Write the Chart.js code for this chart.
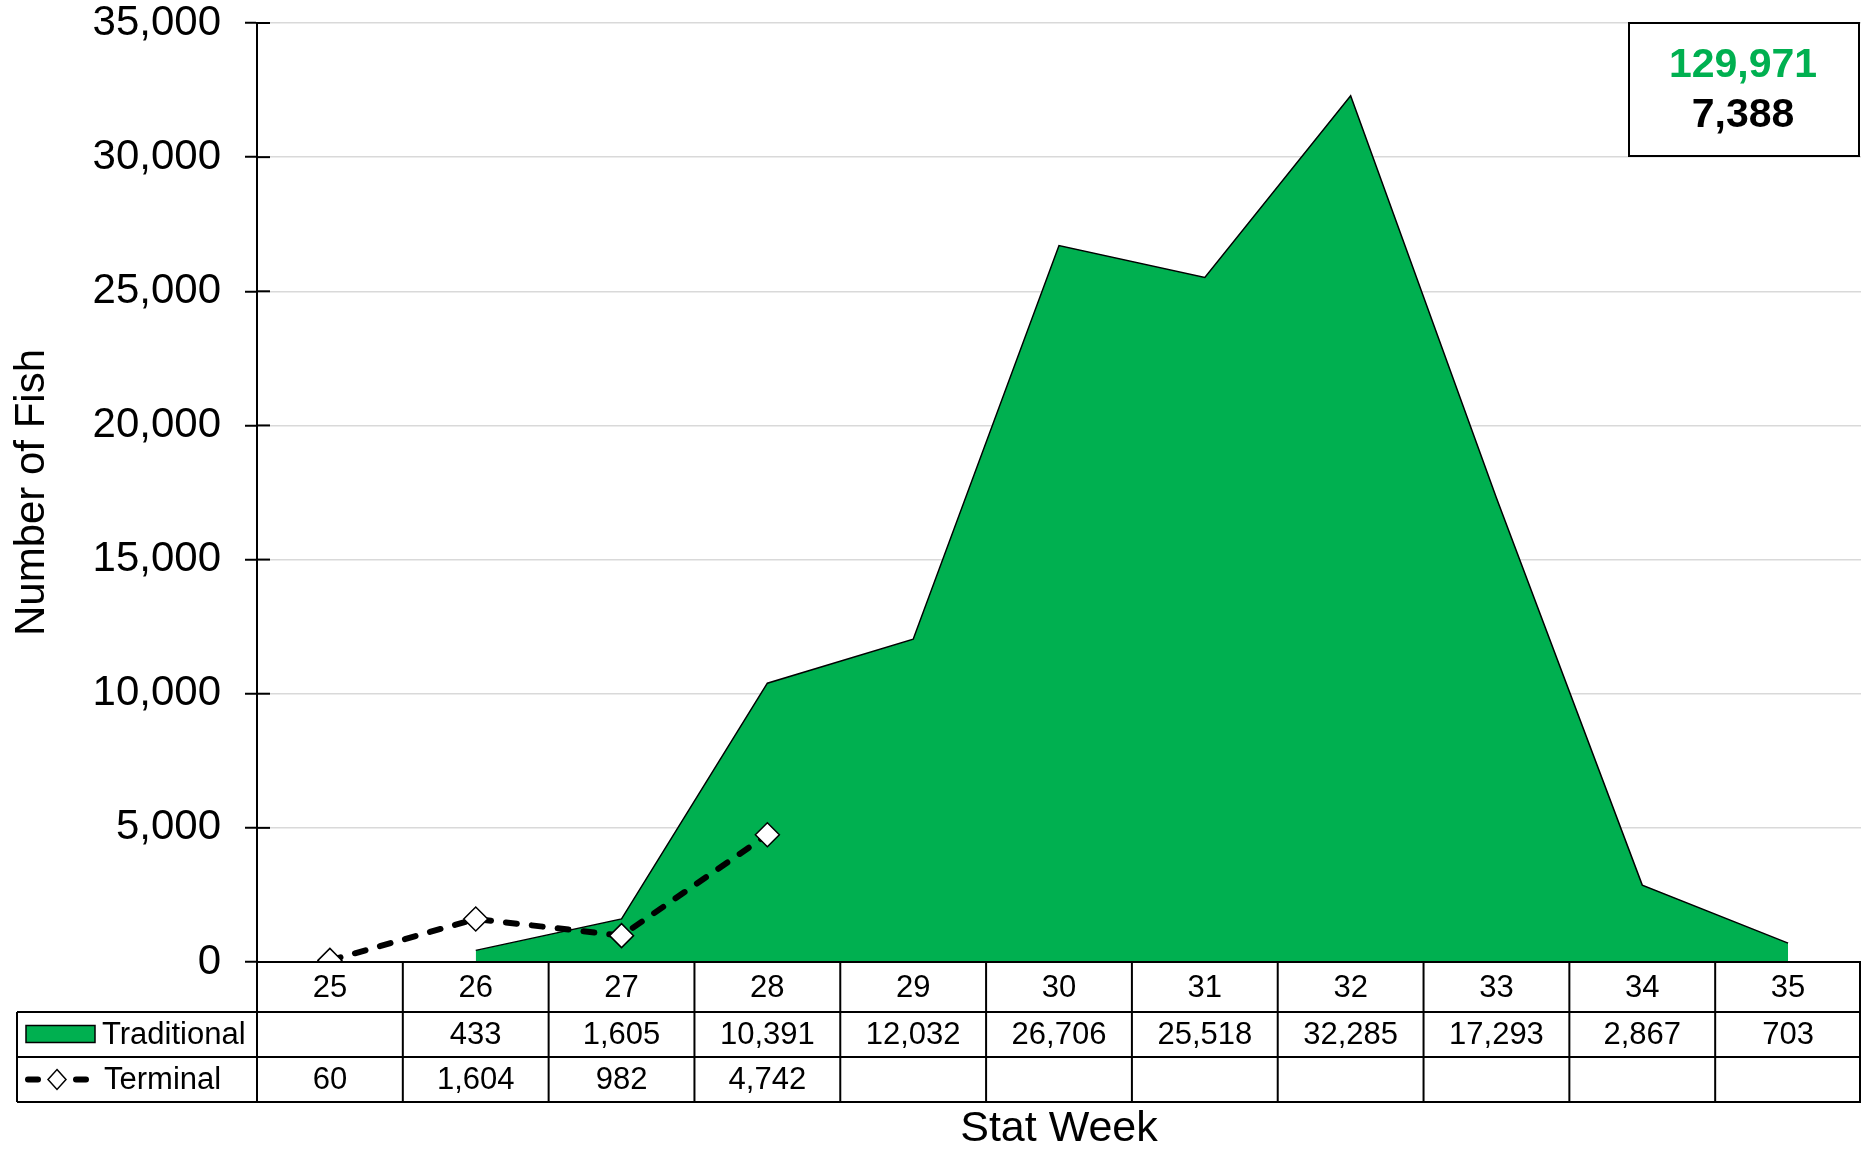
<!DOCTYPE html>
<html>
<head>
<meta charset="utf-8">
<script src="https://cdn.jsdelivr.net/npm/chart.js@4/dist/chart.umd.min.js"></script>
<style>
    body { margin: 0; background: #fff; }
    canvas { display: block; }
</style>
</head>
<body>
<canvas id="MyChart" width="1861" height="1149"></canvas>
<script>
var statWeeks = ["25", "26", "27", "28", "29", "30", "31", "32", "33", "34", "35"];
var traditional = [null, 433, 1605, 10391, 12032, 26706, 25518, 32285, 17293, 2867, 703];
var terminal = [60, 1604, 982, 4742, null, null, null, null, null, null, null];
var traditionalTotal = "129,971";
var terminalTotal = "7,388";

var GREEN = "#00B050";
var FONT = "'Liberation Sans', Arial, sans-serif";

function fmt(v) {
    return v === null ? "" : v.toLocaleString("en-US");
}

// draws the data table under the plot, and the totals box
var tablePlugin = {
    id: "dataTable",
    afterDraw: (chart) => {
        const ctx = chart.ctx;
        const xs = chart.scales.x;
        const ys = chart.scales.y;
        const area = chart.chartArea;
        const rowTop = area.bottom;
        const row1 = rowTop + 50;
        const row2 = row1 + 45;
        const row3 = row2 + 45;
        const legLeft = 17;

        let centers = statWeeks.map((w, i) => xs.getPixelForValue(i));
        let half = (centers[1] - centers[0]) / 2;

        ctx.save();
        // tick marks crossing the axis
        ctx.strokeStyle = "#000";
        ctx.lineWidth = 2;
        ys.ticks.forEach((t) => {
            let y = ys.getPixelForValue(t.value);
            ctx.beginPath();
            ctx.moveTo(area.left, y);
            ctx.lineTo(area.left + 13, y);
            ctx.stroke();
        });

        // table lines
        ctx.beginPath();
        ctx.moveTo(area.left, rowTop);
        ctx.lineTo(area.right, rowTop);
        [row1, row2, row3].forEach((y) => {
            ctx.moveTo(legLeft, y);
            ctx.lineTo(area.right, y);
        });
        ctx.moveTo(legLeft, row1);
        ctx.lineTo(legLeft, row3);
        ctx.moveTo(area.left, rowTop);
        ctx.lineTo(area.left, row3);
        centers.forEach((c) => {
            ctx.moveTo(Math.min(c + half, area.right - 1), rowTop);
            ctx.lineTo(Math.min(c + half, area.right - 1), row3);
        });
        ctx.stroke();

        // table text
        ctx.fillStyle = "#000";
        ctx.font = "31px " + FONT;
        ctx.textAlign = "center";
        ctx.textBaseline = "middle";
        statWeeks.forEach((w, i) => {
            ctx.fillText(w, centers[i], (rowTop + row1) / 2 + 1);
            ctx.fillText(fmt(traditional[i]), centers[i], (row1 + row2) / 2 + 1);
            ctx.fillText(fmt(terminal[i]), centers[i], (row2 + row3) / 2 + 1);
        });

        // legend keys
        let ty = (row1 + row2) / 2;
        ctx.fillStyle = GREEN;
        ctx.fillRect(26, ty - 9, 69, 17);
        ctx.lineWidth = 1.5;
        ctx.strokeRect(26, ty - 9, 69, 17);
        ctx.fillStyle = "#000";
        ctx.textAlign = "left";
        ctx.fillText("Traditional", 102, ty + 1);

        let my = (row2 + row3) / 2;
        ctx.lineWidth = 6;
        ctx.lineCap = "round";
        ctx.beginPath();
        ctx.moveTo(28, my);
        ctx.lineTo(38, my);
        ctx.moveTo(76, my);
        ctx.lineTo(86, my);
        ctx.stroke();
        ctx.lineWidth = 1.5;
        ctx.fillStyle = "#fff";
        ctx.beginPath();
        ctx.moveTo(57, my - 10);
        ctx.lineTo(66, my);
        ctx.lineTo(57, my + 10);
        ctx.lineTo(48, my);
        ctx.closePath();
        ctx.fill();
        ctx.stroke();
        ctx.fillStyle = "#000";
        ctx.fillText("Terminal", 104, my + 1);

        // x axis title
        ctx.textAlign = "center";
        ctx.font = "43px " + FONT;
        ctx.fillText("Stat Week", (area.left + area.right) / 2, 1129);

        // totals box
        ctx.fillStyle = "#fff";
        ctx.fillRect(1629, 23, 230, 133);
        ctx.lineWidth = 2;
        ctx.strokeStyle = "#000";
        ctx.strokeRect(1629, 23, 230, 133);
        ctx.font = "bold 41px " + FONT;
        ctx.fillStyle = GREEN;
        ctx.fillText(traditionalTotal, 1743, 66);
        ctx.fillStyle = "#000";
        ctx.fillText(terminalTotal, 1743, 116);
        ctx.restore();
    }
};

const ctx = document.getElementById("MyChart");

var ChartView = new Chart(ctx, {
    type: "line",
    data: {
        labels: statWeeks,
        datasets: [{
            label: "Traditional",
            data: traditional,
            order: 2,
            fill: "origin",
            backgroundColor: GREEN,
            borderColor: "#000",
            borderWidth: 1.5,
            tension: 0,
            pointRadius: 0
        }, {
            label: "Terminal",
            data: terminal,
            order: 1,
            fill: false,
            borderColor: "#000",
            borderWidth: 6,
            borderDash: [11, 15],
            borderCapStyle: "round",
            tension: 0,
            pointStyle: "rectRot",
            pointRadius: 12,
            pointBackgroundColor: "#fff",
            pointBorderColor: "#000",
            pointBorderWidth: 1.5
        }]
    },
    options: {
        responsive: false,
        animation: false,
        layout: {
            autoPadding: false,
            padding: { top: 23, left: 0, right: 0, bottom: 187 }
        },
        plugins: {
            legend: { display: false },
            tooltip: { enabled: false }
        },
        scales: {
            x: {
                display: false,
                offset: true
            },
            y: {
                min: 0,
                max: 35000,
                afterFit: (scale) => {
                    scale.width = 257;
                    scale.paddingTop = 0;
                    scale.paddingBottom = 0;
                },
                ticks: {
                    stepSize: 5000,
                    padding: 24,
                    color: "#000",
                    font: { family: FONT, size: 42 },
                    callback: (v) => v.toLocaleString("en-US")
                },
                grid: {
                    color: "#d9d9d9",
                    lineWidth: 1.5,
                    tickColor: "#000",
                    tickWidth: 2,
                    tickLength: 12
                },
                border: { color: "#000", width: 2 },
                title: {
                    display: true,
                    text: "Number of Fish",
                    color: "#000",
                    font: { family: FONT, size: 42 },
                    padding: { top: 7, bottom: 0 }
                }
            }
        }
    },
    plugins: [tablePlugin]
});
</script>
</body>
</html>
